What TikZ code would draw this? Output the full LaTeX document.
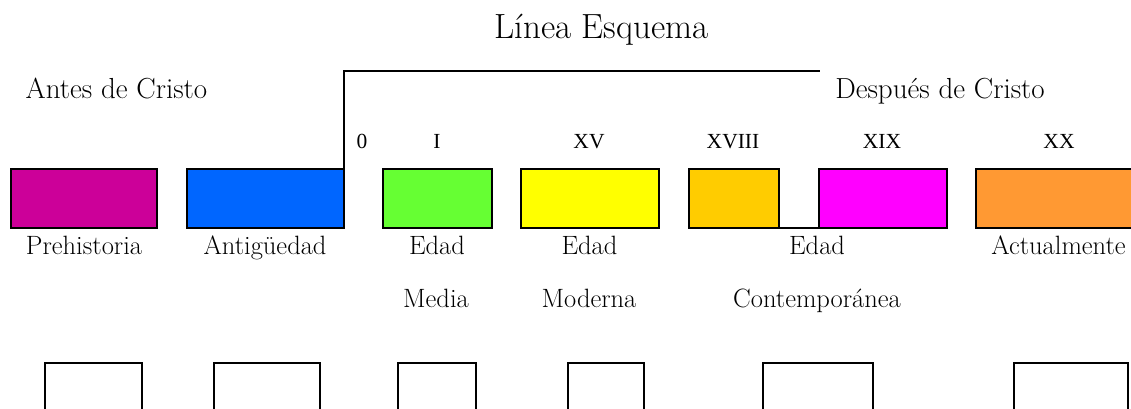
\documentclass[tikz,border=0pt]{standalone}
\usepackage{fontspec}
\newfontfamily\numfont{Liberation Serif}
\definecolor{cPre}{HTML}{CC0099}
\definecolor{cAnt}{HTML}{0066FF}
\definecolor{cMed}{HTML}{66FF33}
\definecolor{cMod}{HTML}{FFFF00}
\definecolor{cXviii}{HTML}{FFCC00}
\definecolor{cXix}{HTML}{FF00FF}
\definecolor{cAct}{HTML}{FF9933}
\begin{document}
\begin{tikzpicture}[x=1pt,y=-1pt,
  era/.style={draw=black, line width=1.5pt, inner sep=0pt, outer sep=0pt, minimum height=59pt},
  slot/.style={draw=black, line width=1.5pt, inner sep=0pt, outer sep=0pt, minimum height=80pt},
  lbl/.style={anchor=base, inner sep=0pt, font=\fontsize{26.5}{30}\selectfont},
  head/.style={anchor=base, inner sep=0pt, font=\fontsize{29}{34}\selectfont},
  num/.style={anchor=base, inner sep=0pt, font=\numfont\fontsize{21.5}{26}\selectfont},
]
\useasboundingbox (0,0) rectangle (1131,409);
\clip (0,0) rectangle (1131,409);

% title and era headings
\node[anchor=base, inner sep=0pt, font=\fontsize{35}{42}\selectfont] (title) at (601.5,39) {Línea Esquema};
\node[head] (ac) at (116.5,99) {Antes de Cristo};
\node[head] (dc) at (940,99) {Después de Cristo};

% century marks
\node[num] (n0) at (362,148) {0};
\node[num] (n1) at (437,148) {I};
\node[num] (n15) at (589,148) {XV};
\node[num] (n18) at (733,148) {XVIII};
\node[num] (n19) at (882,148) {XIX};
\node[num] (n20) at (1059,148) {XX};

% coloured period boxes
\node[era, fill=cPre, minimum width=146pt] (pre) at (84,198.5) {};
\node[era, fill=cAnt, minimum width=157pt] (ant) at (265.5,198.5) {};
\node[era, fill=cMed, minimum width=109pt] (med) at (437.5,198.5) {};
\node[era, fill=cMod, minimum width=138pt] (mod) at (590,198.5) {};
\node[era, fill=cXviii, minimum width=90pt] (xviii) at (734,198.5) {};
\node[era, fill=cXix, minimum width=128pt] (xix) at (883,198.5) {};
\node[era, fill=cAct, minimum width=165pt] (act) at (1058.5,198.5) {};

% bracket marking the start of the Christian era
\coordinate (corner) at (344,71);
\coordinate (bend) at (820,71);
\draw[line width=2pt] (ant.north east) -- (corner) -- (bend);

% link joining the two boxes of the contemporary age
\draw[line width=1.5pt] (xviii.south east) -- (xix.south west);

% period names
\node[lbl] (lpre) at (84,254) {Prehistoria};
\node[lbl] (lant) at (265,254) {Antigüedad};
\node[lbl] (lmed) at (437,254) {Edad};
\node[lbl] (lmod) at (589.5,254) {Edad};
\node[lbl] (lcon) at (817,254) {Edad};
\node[lbl] (lact) at (1058.5,254) {Actualmente};
\node[lbl] (lmed2) at (436,307) {Media};
\node[lbl] (lmod2) at (589,307) {Moderna};
\node[lbl] (lcon2) at (817,307) {Contemporánea};

% empty answer boxes
\node[slot, minimum width=97pt] (s1) at (93.5,403) {};
\node[slot, minimum width=106pt] (s2) at (267,403) {};
\node[slot, minimum width=78pt] (s3) at (437,403) {};
\node[slot, minimum width=76pt] (s4) at (606,403) {};
\node[slot, minimum width=110pt] (s5) at (818,403) {};
\node[slot, minimum width=114pt] (s6) at (1071,403) {};
\end{tikzpicture}
\end{document}
